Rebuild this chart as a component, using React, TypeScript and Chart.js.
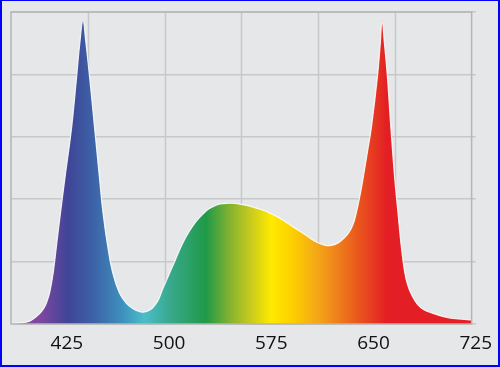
import React, { useEffect, useRef } from "react";
import { Chart, registerables } from "chart.js";

Chart.register(...registerables);

const wavelengths = [
  384, 390, 395, 398, 401, 405, 408, 410, 412.5, 415, 417.5, 420, 423.5, 428.5, 432, 434.5, 436.8,
  439, 441.7, 445.3, 449, 451.4, 455, 458.7, 463.6, 468.5, 473.3, 478, 481, 485, 488, 492, 495,
  502.5, 509.8, 515, 519.6, 525, 529.3, 535, 540, 546, 551, 557, 563.4, 570, 575.5, 580.5, 585.3,
  590, 600, 607, 614, 619, 624, 628, 631.5, 634.5, 636.5, 640, 642.4, 645.5, 648.5, 652.9, 655,
  656.3, 658, 660.2, 662.7, 665.6, 668, 670.4, 672.9, 675, 677.7, 682.6, 687, 692.3, 702, 712, 722,
];
const intensity = [
  0.2, 0.3, 0.6, 1.0, 1.8, 3.3, 5.0, 6.7, 10.3, 16.5, 25.5, 34.5, 46.5, 63, 78.5, 90, 97.2,
  90, 79, 63, 46.5, 36, 24.8, 16.3, 9.9, 6.7, 5, 4, 3.8, 4.3, 5.2, 7.6, 10.9,
  18.4, 25.7, 29.8, 32.7, 35.3, 36.9, 38.2, 38.6, 38.7, 38.5, 38, 37.2, 36.3, 35.2, 34.1, 32.8,
  31.4, 28.6, 26.5, 25.3, 25.2, 26.0, 27.4, 29.0, 31.4, 34.0, 41.0, 46.8, 55, 63.2, 79.3, 90,
  97.4, 90, 79.3, 63.2, 46.5, 35.5, 24.8, 16.6, 12.6, 9.6, 6.1, 4.6, 3.6, 2.3, 1.6, 1.3,
];
const tickLabels = [425, 500, 575, 650, 725];
const axisMin = 384;
const axisMax = 725;
const dataEnd = 722;

const spectrumStops: [number, string][] = [
  [384, "#8d4ea0"],
  [405, "#7f47a0"],
  [426, "#3f4597"],
  [445, "#3d63a7"],
  [465, "#3d8fbd"],
  [482, "#4bbdc9"],
  [500, "#3aa98e"],
  [527, "#1f9a48"],
  [545, "#87b32f"],
  [560, "#c8cb1e"],
  [575, "#ffe900"],
  [590, "#fdd000"],
  [610, "#f4a419"],
  [638, "#e9591d"],
  [660, "#e31e24"],
  [722, "#e31e24"],
];

const BG = "#e6e7e9";
const GRID = "#c7c8ca";
const FRAME = "#b4b5b7";

const framePlugin = {
  id: "framePlugin",
  beforeDatasetsDraw(chart: any) {
    const { ctx, chartArea, scales } = chart;
    const left = chartArea.left;
    const right = scales.x.getPixelForValue(dataEnd);
    ctx.save();
    ctx.strokeStyle = GRID;
    ctx.lineWidth = 1.5;
    for (let i = 1; i < 6; i++) {
      const x = Math.round(left + ((right - left) * i) / 6) + 0.5;
      ctx.beginPath();
      ctx.moveTo(x, chartArea.top);
      ctx.lineTo(x, chartArea.bottom);
      ctx.stroke();
    }
    ctx.restore();
  },
  afterDatasetsDraw(chart: any) {
    const { ctx, chartArea, scales } = chart;
    const left = chartArea.left;
    const right = scales.x.getPixelForValue(dataEnd);
    ctx.save();
    ctx.strokeStyle = FRAME;
    ctx.lineWidth = 1.5;
    ctx.strokeRect(left, chartArea.top, right - left, chartArea.bottom - chartArea.top);
    ctx.restore();
  },
};

export default function App() {
  const ref = useRef<HTMLCanvasElement | null>(null);

  useEffect(() => {
    if (!ref.current) return;
    const points = wavelengths.map((w, i) => ({ x: w, y: intensity[i] }));
    const chart = new Chart(ref.current, {
      type: "line",
      data: {
        datasets: [
          {
            data: points,
            fill: "origin",
            tension: 0.4,
            borderColor: "rgba(255,255,255,0.85)",
            borderWidth: 1.2,
            pointRadius: 0,
            backgroundColor: (c: any) => {
              const chart = c.chart;
              const { chartArea, scales } = chart;
              if (!chartArea || !scales.x) return "#888";
              const x0 = scales.x.getPixelForValue(axisMin);
              const x1 = scales.x.getPixelForValue(dataEnd);
              const g = chart.ctx.createLinearGradient(x0, 0, x1, 0);
              spectrumStops.forEach(([nm, col]) => {
                g.addColorStop(Math.min(1, Math.max(0, (nm - axisMin) / (dataEnd - axisMin))), col);
              });
              return g;
            },
          },
        ],
      },
      options: {
        animation: false,
        responsive: false,
        maintainAspectRatio: false,
        layout: { padding: { left: 11, top: 12, right: 22, bottom: 0 } },
        plugins: { legend: { display: false }, tooltip: { enabled: false } },
        scales: {
          x: {
            type: "linear",
            min: axisMin,
            max: axisMax,
            grid: { display: false, drawTicks: false },
            border: { display: false },
            afterBuildTicks: (scale: any) => {
              scale.ticks = tickLabels.map((v) => ({ value: v }));
            },
            afterFit: (scale: any) => {
              scale.height = 43;
            },
            ticks: {
              autoSkip: false,
              maxRotation: 0,
              padding: 8,
              color: "#111",
              font: { family: "'Open Sans', sans-serif", size: 19 },
            },
          },
          y: {
            min: 0,
            max: 100,
            ticks: { display: false, stepSize: 20 },
            grid: { color: GRID, lineWidth: 1.5, drawTicks: false },
            border: { display: false },
            afterFit: (scale: any) => {
              scale.width = 0;
            },
          },
        },
      },
      plugins: [framePlugin],
    });
    return () => chart.destroy();
  }, []);

  return (
    <div style={{ position: "fixed", left: 0, top: 0, width: 500, height: 367, background: BG }}>
      <canvas ref={ref} width={500} height={367} style={{ position: "absolute", left: 0, top: 0 }} />
      <div
        style={{
          position: "absolute",
          inset: 0,
          boxSizing: "border-box",
          borderStyle: "solid",
          borderColor: "#0000ff",
          borderWidth: "1px 2px 2px 2px",
          pointerEvents: "none",
        }}
      />
    </div>
  );
}
